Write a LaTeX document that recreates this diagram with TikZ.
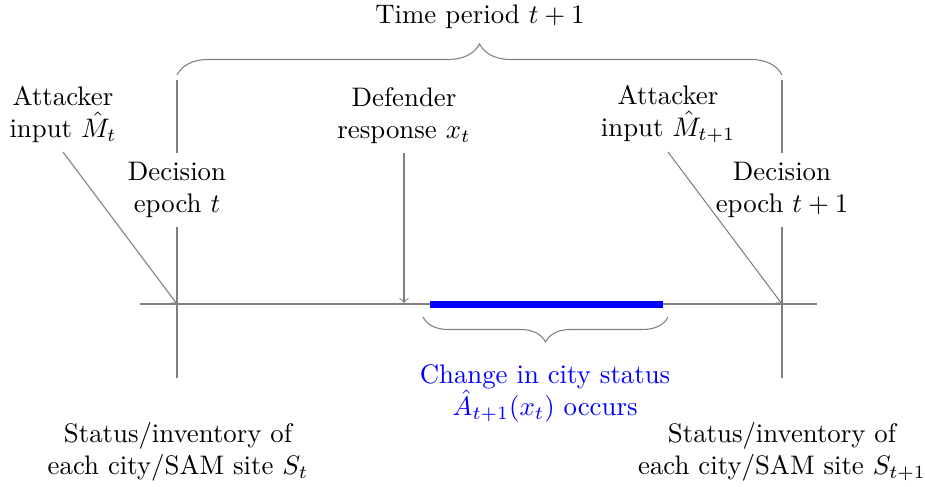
\documentclass[tikz,border=0pt]{standalone}
\usetikzlibrary{decorations.pathreplacing}
\begin{document}
\begin{tikzpicture}[x=0.3731pt,y=-0.3731pt,
  gl/.style={draw=gray, line width=0.4pt},
  arr/.style={gl,->},
  txt/.style={align=center, inner sep=3.33pt},
  brc/.style={gl, decorate, decoration={brace, amplitude=#1}}]
\useasboundingbox (0,0) rectangle (925,486);
% coordinates
\coordinate (axL) at (140,304);
\coordinate (axR) at (817,304);
\coordinate (p0) at (177,304);
\coordinate (p1) at (782,304);
\coordinate (pd) at (404,303);
\coordinate (v0t) at (177,80);
\coordinate (v0b) at (177,378);
\coordinate (v1t) at (782,80);
\coordinate (v1b) at (782,378);
\coordinate (bL) at (430,304);
\coordinate (bR) at (663,304);
\coordinate (tbL) at (177,75);
\coordinate (tbR) at (782,75);
\coordinate (cbL) at (423,317);
\coordinate (cbR) at (668,317);
% nodes
\node[txt] (time) at (480,17) {Time period $t+1$};
\node[txt, anchor=south] (att0) at (63,152) {Attacker\\input $\hat{M}_t$};
\node[txt, anchor=south] (def) at (404,153) {Defender\\response $x_t$};
\node[txt, anchor=south] (att1) at (668,152) {Attacker\\input $\hat{M}_{t+1}$};
\node[txt] (dec0) at (177,190) {Decision\\epoch $t$};
\node[txt] (dec1) at (782,190) {Decision\\epoch $t+1$};
\node[txt, text=blue] (chg) at (545,393) {Change in city status\\$\hat{A}_{t+1}(x_t)$ occurs};
\node[txt] (st0) at (178,452) {Status/inventory of\\each city/SAM site $S_t$};
\node[txt] (st1) at (782,452) {Status/inventory of\\each city/SAM site $S_{t+1}$};
% lines
\draw[gl] (axL) -- (axR);
\draw[gl] (v0t) -- (dec0.north);
\draw[gl] (dec0.south) -- (v0b);
\draw[gl] (v1t) -- (dec1.north);
\draw[gl] (dec1.south) -- (v1b);
\draw[blue, line width=2.6pt] (bL) -- (bR);
\draw[arr] (att0.south) -- (p0);
\draw[arr] (def.south) -- (pd);
\draw[arr] (att1.south) -- (p1);
\draw[brc=11.6pt] (tbL) -- (tbR);
\draw[brc=9.3pt] (cbR) -- (cbL);
\end{tikzpicture}
\end{document}
